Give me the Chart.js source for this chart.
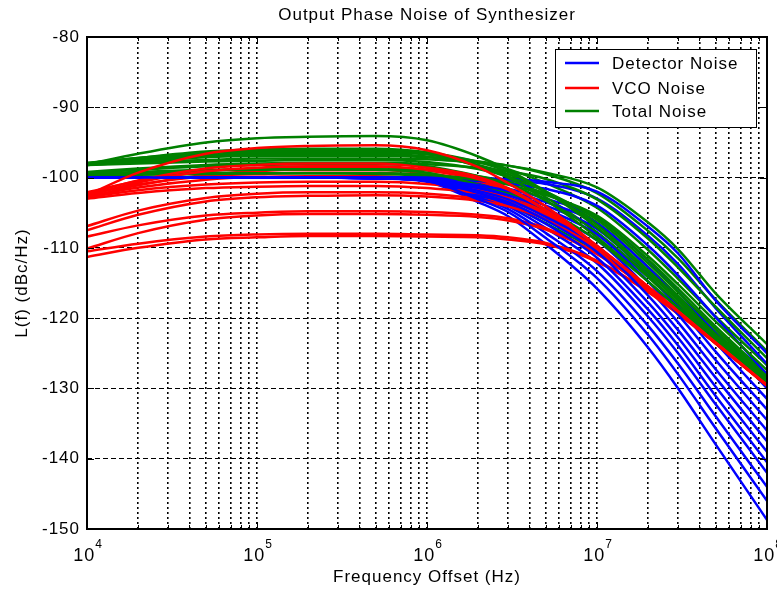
<!DOCTYPE html>
<html>
<head>
<meta charset="utf-8">
<script src="https://cdn.jsdelivr.net/npm/chart.js@4/dist/chart.umd.min.js"></script>
<style>
html,body{margin:0;padding:0;background:#fff;}
canvas{display:block;}
</style>
</head>
<body>
<canvas id="c" width="777" height="594"></canvas>
<script>
// ---------------- data ----------------
const freqs = [1e4, 2e4, 5e4, 1e5, 2e5, 5e5, 1e6, 2e6, 3e6, 5e6, 1e7, 2e7, 3e7, 5e7, 1e8];
const yTickValues = [-150, -140, -130, -120, -110, -100, -90, -80];
const xTickExponents = [4, 5, 6, 7, 8];
const seriesNames = ['Detector Noise', 'VCO Noise', 'Total Noise'];
const titleText = 'Output Phase Noise of Synthesizer';
const xTitle = 'Frequency Offset (Hz)';
const yTitle = 'L(f) (dBc/Hz)';

// one row per Monte-Carlo run (drawing order)
const detectorNoise = [
  [-100,-100,-100,-100,-100,-100,-100.3,-101.7,-102.8,-105.1,-108.9,-115.8,-120.6,-127.3,-136],
  [-100,-100,-100,-100,-100,-100,-100.1,-100.9,-101.6,-103,-105.7,-111.8,-116.2,-122.2,-130],
  [-100,-100,-100,-100,-100,-100.1,-100.4,-102.6,-104.1,-107.2,-112.2,-119.8,-125,-132.3,-142],
  [-100,-100,-100,-100,-100,-100,-100,-100.3,-100.5,-100.9,-103.0,-108.3,-112.3,-118.6,-126.5],
  [-100,-100,-100,-100,-100,-100.1,-100.6,-103.5,-105.5,-109.5,-115.8,-124.2,-130,-138,-148.7],
  [-100,-100,-100,-100,-100,-100,-100.2,-101.3,-102.2,-104,-107.3,-113.8,-118.4,-124.8,-133],
  [-100,-100,-100,-100,-100,-100,-100.1,-100.5,-100.9,-101.6,-104.0,-109.7,-113.9,-119.9,-128],
  [-100,-100,-100,-100,-100,-100,-100,-100.1,-100.2,-100.6,-102.0,-107.0,-110.8,-117.5,-125],
  [-100,-100,-100,-100,-100,-100.1,-100.5,-102.8,-104.5,-107.9,-113.3,-121.1,-126.5,-134,-144],
  [-100,-100,-100,-100,-100,-100,-100.2,-101.1,-101.9,-103.5,-106.5,-112.8,-117.3,-123.5,-131.5],
  [-100,-100,-100,-100,-100,-100.1,-100.4,-102.4,-103.8,-106.6,-111.4,-118.8,-123.9,-131.1,-140.5],
  [-100,-100,-100,-100,-100,-100,-100.2,-101.5,-102.5,-104.5,-108.1,-114.8,-119.5,-126,-134.5],
  [-100,-100,-100,-100,-100,-100.1,-100.5,-103.1,-104.9,-108.6,-114.3,-122.4,-128,-135.7,-146],
  [-100,-100,-100,-100,-100,-100.1,-100.3,-101.9,-103.1,-105.6,-109.7,-116.8,-121.7,-128.5,-137.5],
  [-100,-100,-100,-100,-100,-100.1,-100.4,-102.2,-103.5,-106.1,-110.6,-117.8,-122.8,-129.8,-139]
];
const vcoNoise = [
  [-102.4,-101.0,-99.8,-99.5,-99.3,-99.3,-99.8,-100.8,-102.2,-104.9,-109.9,-115.6,-119.1,-123.5,-129.5],
  [-102.9,-101.1,-99.6,-99.1,-98.9,-98.9,-99.4,-100.5,-102.0,-104.8,-109.8,-115.6,-119.1,-123.5,-129.5],
  [-102.1,-100.5,-99.1,-98.7,-98.5,-98.5,-99.0,-100.3,-101.8,-104.7,-109.8,-115.6,-119.1,-123.5,-129.5],
  [-102.7,-101.4,-100.3,-99.9,-99.8,-99.8,-100.2,-101.2,-102.4,-105.1,-109.9,-115.6,-119.1,-123.5,-129.5],
  [-111.3,-110.0,-108.8,-108.5,-108.3,-108.3,-108.4,-108.5,-108.8,-109.5,-112.0,-116.3,-119.4,-123.6,-129.6],
  [-108.4,-106.8,-105.4,-105.0,-104.8,-104.8,-104.9,-105.3,-105.8,-107.2,-110.8,-115.9,-119.2,-123.6,-129.6],
  [-106.9,-104.7,-102.9,-102.3,-102.1,-102.1,-102.3,-103.0,-103.8,-105.9,-110.2,-115.7,-119.1,-123.6,-129.5],
  [-102.8,-101.8,-101.0,-100.7,-100.6,-100.6,-100.9,-101.8,-102.9,-105.3,-110.0,-115.6,-119.1,-123.5,-129.5],
  [-110.1,-107.9,-106.0,-105.4,-105.2,-105.2,-105.3,-105.6,-106.1,-107.4,-110.9,-115.9,-119.2,-123.6,-129.6],
  [-110.5,-109.4,-108.4,-108.1,-108.0,-108.0,-108.1,-108.2,-108.5,-109.3,-111.8,-116.2,-119.3,-123.6,-129.6],
  [-107.5,-105.3,-103.4,-102.8,-102.6,-102.5,-102.7,-103.3,-104.1,-106.0,-110.3,-115.7,-119.1,-123.6,-129.5],
  [-103.0,-102.2,-101.5,-101.3,-101.2,-101.2,-101.5,-102.2,-103.3,-105.5,-110.1,-115.7,-119.1,-123.5,-129.5],
  [-102.6,-100.7,-99.1,-98.6,-98.4,-98.4,-98.9,-100.2,-101.7,-104.7,-109.8,-115.6,-119.1,-123.5,-129.5],
  [-102.3,-100.4,-98.7,-98.2,-98.0,-98.0,-98.6,-99.9,-101.5,-104.6,-109.8,-115.6,-119.0,-123.5,-129.5],
  [-102.5,-99.3,-96.6,-95.8,-95.5,-95.4,-96.1,-98.5,-100.8,-104.1,-109.7,-115.5,-119.0,-123.5,-129.5]
];
const totalNoise = [
  [-98.0,-97.5,-96.9,-96.7,-96.6,-96.6,-97.0,-98.2,-99.5,-102.0,-106.4,-112.7,-116.8,-122.0,-128.6],
  [-98.2,-97.5,-96.8,-96.5,-96.4,-96.4,-96.7,-97.7,-98.8,-100.8,-104.3,-110.3,-114.4,-119.8,-126.7],
  [-97.9,-97.2,-96.5,-96.3,-96.2,-96.2,-96.6,-98.3,-99.8,-102.8,-107.8,-114.2,-118.1,-123.0,-129.3],
  [-98.1,-97.6,-97.1,-96.9,-96.9,-96.9,-97.1,-97.7,-98.3,-99.5,-102.2,-107.6,-111.5,-117.4,-124.7],
  [-99.7,-99.6,-99.5,-99.4,-99.4,-99.5,-99.9,-102.3,-103.8,-106.5,-110.5,-115.6,-119.0,-123.4,-129.5],
  [-99.4,-99.2,-98.9,-98.8,-98.8,-98.8,-98.9,-99.8,-100.6,-102.3,-105.7,-111.7,-115.8,-121.2,-128.0],
  [-99.2,-98.7,-98.2,-98.0,-97.9,-97.9,-98.1,-98.6,-99.1,-100.2,-103.1,-108.7,-112.8,-118.4,-125.7],
  [-98.2,-97.8,-97.5,-97.3,-97.3,-97.3,-97.4,-97.9,-98.3,-99.3,-101.4,-106.4,-110.2,-116.5,-123.7],
  [-99.6,-99.4,-99.0,-98.9,-98.8,-98.9,-99.3,-101.0,-102.2,-104.6,-108.9,-114.8,-118.5,-123.2,-129.4],
  [-99.6,-99.5,-99.4,-99.4,-99.4,-99.4,-99.6,-100.3,-101.0,-102.5,-105.4,-111.2,-115.2,-120.5,-127.4],
  [-99.3,-98.9,-98.4,-98.2,-98.1,-98.1,-98.4,-99.8,-100.9,-103.3,-107.8,-114.0,-117.9,-122.9,-129.2],
  [-98.2,-98.0,-97.7,-97.6,-97.5,-97.5,-97.8,-98.8,-99.9,-102.0,-106.0,-112.2,-116.3,-121.6,-128.3],
  [-98.1,-97.3,-96.5,-96.2,-96.1,-96.2,-96.6,-98.4,-100.0,-103.2,-108.5,-114.8,-118.6,-123.2,-129.4],
  [-98.0,-97.2,-96.3,-96.0,-95.9,-95.9,-96.4,-97.8,-99.2,-102.1,-106.7,-113.2,-117.1,-122.3,-128.9],
  [-98.1,-96.6,-95.0,-94.4,-94.2,-94.1,-94.7,-97.0,-98.9,-102.0,-107.1,-113.5,-117.5,-122.6,-129.0]
];

// ---------------- styling ----------------
const FONT = "'Liberation Sans', Arial, Helvetica, sans-serif";
const seriesColors = ['#0000ff', '#ff0000', '#008000'];
const groups = [detectorNoise, vcoNoise, totalNoise];

const datasets = [];
let seq = 0;
for (let r = 0; r < detectorNoise.length; r++) {
  for (let g = 0; g < 3; g++) {
    datasets.push({
      label: seriesNames[g],
      data: freqs.map((f, i) => ({ x: f, y: groups[g][r][i] })),
      borderColor: seriesColors[g],
      backgroundColor: seriesColors[g],
      borderWidth: 2.5,
      pointRadius: 0,
      fill: false,
      cubicInterpolationMode: 'monotone',
      order: 1000 - (seq++)
    });
  }
}

const xGridValues = [];
for (let e = 4; e < 8; e++) for (let m = 1; m <= 9; m++) xGridValues.push(m * Math.pow(10, e));
xGridValues.push(1e8);

const decor = {
  id: 'decor',
  beforeDraw(chart) {
    const c = chart.ctx;
    c.save();
    c.fillStyle = '#fff';
    c.fillRect(0, 0, chart.width, chart.height);
    c.restore();
    c.letterSpacing = '1px';
  },
  afterDraw(chart) {
    const { ctx, chartArea: a, scales } = chart;
    const xs = scales.x, ys = scales.y;
    ctx.save();
    ctx.letterSpacing = '1px';
    ctx.strokeStyle = '#000';
    ctx.lineWidth = 1;
    ctx.setLineDash([]);
    const seg = (x1, y1, x2, y2) => { ctx.beginPath(); ctx.moveTo(x1, y1); ctx.lineTo(x2, y2); ctx.stroke(); };
    // inner tick marks
    yTickValues.forEach(v => {
      const py = Math.round(ys.getPixelForValue(v)) + 0.5;
      seg(a.left, py, a.left + 7, py);
      seg(a.right - 7, py, a.right, py);
    });
    xGridValues.forEach(v => {
      const px = Math.round(xs.getPixelForValue(v)) + 0.5;
      const major = Math.abs(Math.log10(v) - Math.round(Math.log10(v))) < 1e-9;
      const len = major ? 7 : 4;
      seg(px, a.bottom, px, a.bottom - len);
      seg(px, a.top, px, a.top + len);
    });
    // axes box
    ctx.lineWidth = 2;
    ctx.strokeRect(a.left, a.top, a.right - a.left, a.bottom - a.top);

    // x tick labels 10^n
    ctx.fillStyle = '#000';
    ctx.textBaseline = 'alphabetic';
    ctx.textAlign = 'left';
    xTickExponents.forEach(e => {
      const px = xs.getPixelForValue(Math.pow(10, e));
      ctx.font = '18px ' + FONT;
      const w1 = ctx.measureText('10').width;
      ctx.font = '12px ' + FONT;
      const w2 = ctx.measureText(String(e)).width;
      const x0 = px - (w1 + w2) / 2 + 1;
      ctx.font = '18px ' + FONT;
      ctx.fillText('10', x0, 561);
      ctx.font = '12px ' + FONT;
      ctx.fillText(String(e), x0 + w1, 548);
    });

    // legend box
    const lw = 201, lh = 78;
    const lx = a.right - 11 - lw, ly = a.top + 12;
    ctx.fillStyle = '#fff';
    ctx.fillRect(lx, ly, lw, lh);
    ctx.lineWidth = 1;
    ctx.strokeStyle = '#000';
    ctx.strokeRect(lx + 0.5, ly + 0.5, lw, lh);
    const rows = [14, 39, 62];
    ctx.font = '17px ' + FONT;
    ctx.textBaseline = 'middle';
    seriesNames.forEach((name, i) => {
      const yy = ly + rows[i];
      ctx.strokeStyle = seriesColors[i];
      ctx.lineWidth = 2.5;
      seg(lx + 10, yy, lx + 44, yy);
      ctx.fillStyle = '#000';
      ctx.fillText(name, lx + 57, yy + 1);
    });
    ctx.restore();
  }
};

new Chart(document.getElementById('c'), {
  type: 'line',
  data: { datasets },
  plugins: [decor],
  options: {
    responsive: false,
    animation: false,
    events: [],
    layout: { padding: { left: 0, right: 10, top: 0, bottom: 0 } },
    plugins: {
      legend: { display: false },
      tooltip: { enabled: false },
      title: {
        display: true,
        text: titleText,
        fullSize: false,
        color: '#000',
        font: { family: FONT, size: 17, weight: 'normal', lineHeight: 1.2 },
        padding: { top: 5.3, bottom: 11.3 }
      }
    },
    scales: {
      x: {
        type: 'logarithmic',
        position: 'bottom',
        min: 1e4,
        max: 1e8,
        afterBuildTicks(scale) { scale.ticks = xGridValues.map(v => ({ value: v })); },
        ticks: { autoSkip: false, display: true, callback: () => '', font: { family: FONT, size: 17 }, color: '#000', maxRotation: 0 },
        grid: { color: '#000', lineWidth: 1.6, drawTicks: false },
        border: { display: false, dash: [2, 3] },
        title: {
          display: true, text: xTitle, color: '#000',
          font: { family: FONT, size: 17, weight: 'normal', lineHeight: 1.2 },
          padding: { top: 0, bottom: 6 }
        },
        afterFit(s) { s.height = 65; s.paddingLeft = 0; s.paddingRight = 0; }
      },
      y: {
        type: 'linear',
        min: -150,
        max: -80,
        afterBuildTicks(scale) { scale.ticks = yTickValues.map(v => ({ value: v })); },
        ticks: { padding: 7, color: '#000', font: { family: FONT, size: 17 } },
        grid: { color: '#000', lineWidth: 1, drawTicks: false },
        border: { display: false, dash: [5, 3] },
        title: {
          display: true, text: yTitle, color: '#000',
          font: { family: FONT, size: 17, weight: 'normal', lineHeight: 1.2 },
          padding: { top: 12, bottom: 0 }
        },
        afterFit(s) { s.width = 87; s.paddingTop = 0; s.paddingBottom = 0; }
      }
    }
  }
});
</script>
</body>
</html>
